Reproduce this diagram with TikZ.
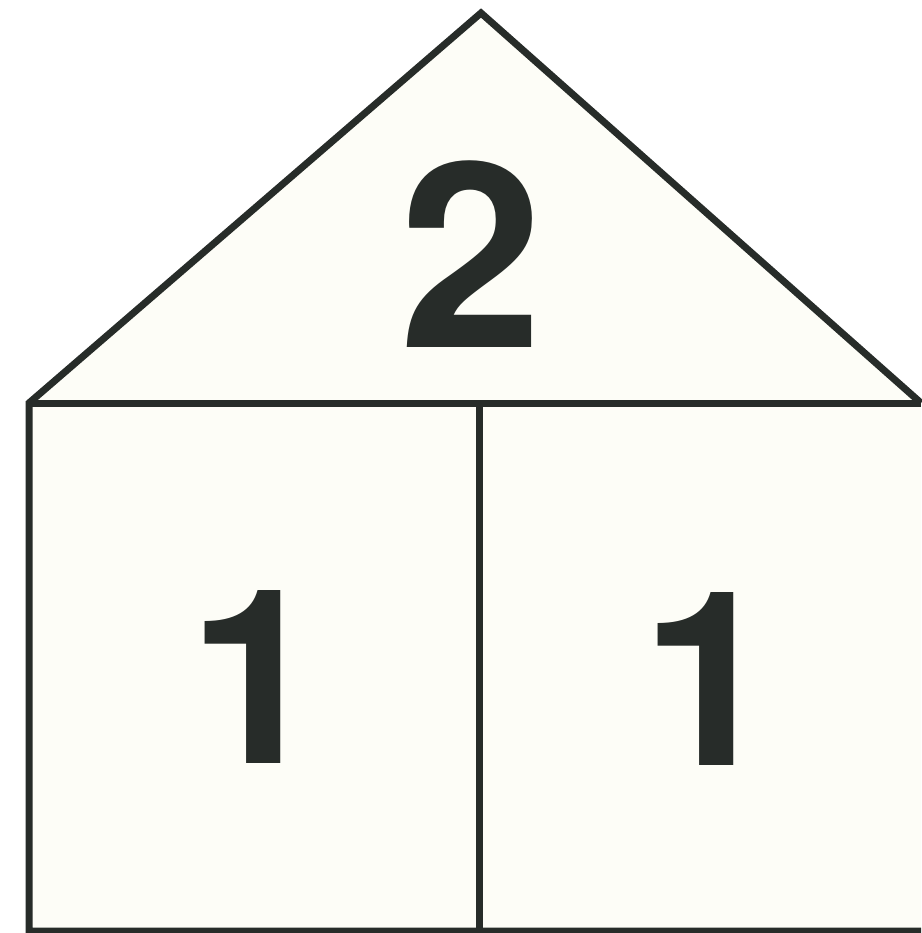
\documentclass[tikz,border=0pt]{standalone}
\usepackage{fontspec}
\setmainfont{TeX Gyre Heros}
\definecolor{ink}{HTML}{272C29}
\definecolor{paper}{HTML}{FDFDF7}
\begin{document}
\begin{tikzpicture}[x=1pt,y=-1pt,
  wall/.style={draw=ink,line width=7pt,line join=miter},
  digit/.style={text=ink,inner sep=0pt,font=\bfseries\fontsize{258}{258}\selectfont},
  one/.style={digit,font=\bfseries\fontsize{244}{244}\selectfont}]
\useasboundingbox[fill=white] (0,0) rectangle (921,933);
\coordinate (apex) at (481,13);
\coordinate (bl) at (29,403);
\coordinate (br) at (921,403);
\coordinate (fl) at (29,931);
\coordinate (fr) at (921,931);
\coordinate (mt) at (479,403);
\coordinate (mb) at (479,931);
\fill[paper] (bl) -- (apex) -- (br) -- (fr) -- (fl) -- cycle;
\draw[wall] (br) -- (apex) -- (bl) -- (fl) -- (fr);
\draw[wall] (bl) -- (br);
\draw[wall] (mt) -- (mb);
\node[digit] (two) at (471,254) {2};
\node[one] (onel) at (256,677) {1};
\node[one] (oner) at (709,679) {1};
\end{tikzpicture}
\end{document}
